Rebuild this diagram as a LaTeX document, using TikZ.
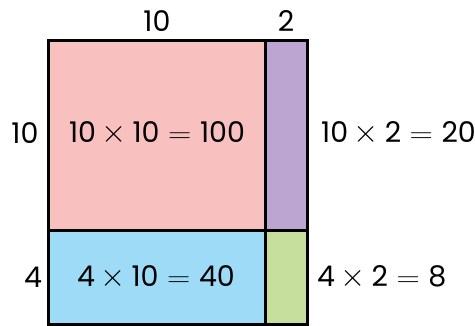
\documentclass[tikz,border=0pt]{standalone}
\usepackage{fontspec}
\setmainfont{Poppins}
\definecolor{cpink}{HTML}{F9C0C0}
\definecolor{cpurple}{HTML}{BCA5D0}
\definecolor{cblue}{HTML}{9EDBF7}
\definecolor{cgreen}{HTML}{C6DF9D}
\newcommand{\tms}{\hspace{0.2em}\scalebox{1.3}{$\times$}\hspace{0.2em}}
\newcommand{\eqs}{\hspace{0.3em}\scalebox{1.3}[1.1]{$=$}\hspace{0.3em}}
\tikzset{
  lbl/.style={font=\fontsize{28.5}{32}\selectfont, inner sep=0pt, anchor=center},
  edge/.style={line width=3pt, line join=miter}
}
\begin{document}
\begin{tikzpicture}[x=1pt,y=-1pt]
\useasboundingbox (0,0) rectangle (475,326);
\fill[cpink] (48,41) rectangle (265,231);
\fill[cpurple] (265,41) rectangle (307,231);
\fill[cblue] (48,231) rectangle (265,324.5);
\fill[cgreen] (265,231) rectangle (307,324.5);
\draw[edge] (48,41) rectangle (307,324.5);
\draw[edge] (265,41) -- (265,324.5);
\draw[edge] (48,231) -- (307,231);
\node[lbl] (t10) at (157,21) {10};
\node[lbl] (t2) at (286,21) {2};
\node[lbl] (l10) at (25,133) {10};
\node[lbl] (l4) at (33,277) {4};
\node[lbl] (a) at (157,133) {10\tms 10\eqs 100};
\node[lbl, anchor=west] (b) at (321,133) {10\tms 2\eqs 20};
\node[lbl] (c) at (156,277) {4\tms 10\eqs 40};
\node[lbl, anchor=west] (d) at (317,277) {4\tms 2\eqs 8};
\end{tikzpicture}
\end{document}
